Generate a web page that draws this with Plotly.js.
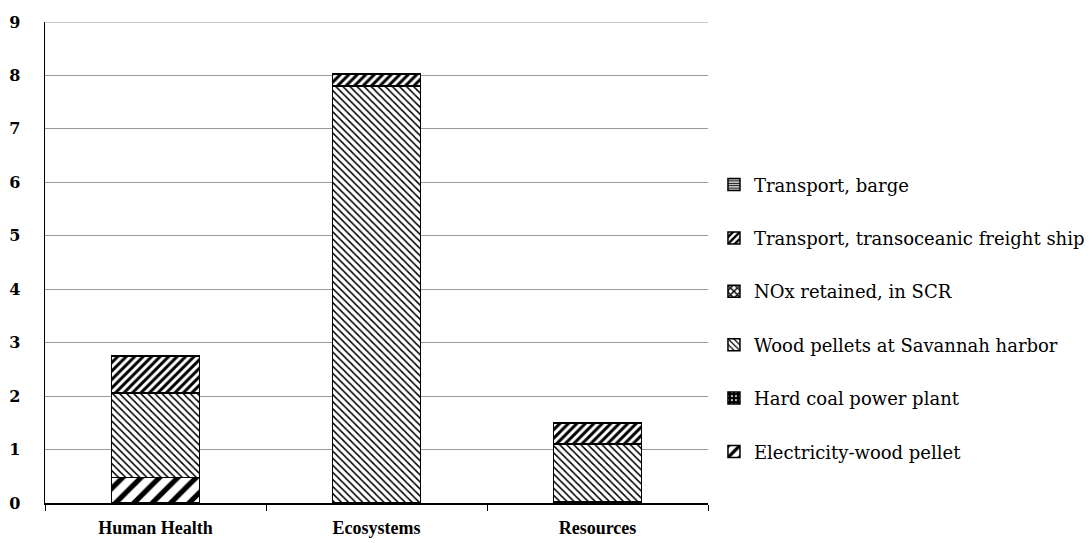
<!DOCTYPE html>
<html>
<head>
<meta charset="utf-8">
<script src="https://cdn.plot.ly/plotly-3.0.1.min.js"></script>
<style>
  html, body { margin: 0; padding: 0; background: #fff; }
  #chart { width: 1091px; height: 543px; }
</style>
</head>
<body>
<div id="chart"></div>
<script>
// Impact categories
const categories = ["Human Health", "Ecosystems", "Resources"];

// Contribution of each process, stacked bottom to top
const electricityWoodPellet = [0.48, 0.00, 0.03];
const hardCoalPowerPlant    = [0.00, 0.00, 0.00];
const woodPelletsSavannah   = [1.58, 7.80, 1.07];
const noxRetainedSCR        = [0.00, 0.00, 0.00];
const transportFreightShip  = [0.69, 0.22, 0.40];
const transportBarge        = [0.01, 0.01, 0.01];

const seriesNames = [
  "Electricity-wood pellet",
  "Hard coal power plant",
  "Wood pellets at Savannah harbor",
  "NOx retained, in SCR",
  "Transport, transoceanic freight ship",
  "Transport, barge"
];
const seriesValues = [
  electricityWoodPellet,
  hardCoalPowerPlant,
  woodPelletsSavannah,
  noxRetainedSCR,
  transportFreightShip,
  transportBarge
];

// Black-and-white fill patterns for each process
const patterns = [
  { shape: "/",  size: 13, solidity: 0.4,  fgcolor: "#000", bgcolor: "#fff" },
  { shape: ".",  size: 5,  solidity: 0.2,  fgcolor: "#fff", bgcolor: "#000" },
  { shape: "\\", size: 5,  solidity: 0.3,  fgcolor: "#000", bgcolor: "#fff" },
  { shape: "x",  size: 6,  solidity: 0.5,  fgcolor: "#000", bgcolor: "#fff" },
  { shape: "/",  size: 6,  solidity: 0.5,  fgcolor: "#000", bgcolor: "#fff" },
  { shape: "-",  size: 3,  solidity: 0.5,  fgcolor: "#000", bgcolor: "#fff" }
];

const serif = "DejaVu Serif";
const boldSerif = "Liberation Serif";

const traces = seriesNames.map((name, i) => ({
  type: "bar",
  name: name,
  x: categories,
  y: seriesValues[i],
  legendgroup: "g" + i,
  legendrank: seriesNames.length - i,
  marker: {
    color: "#fff",
    line: { color: "#000", width: 1.5 },
    pattern: patterns[i]
  },
  hoverinfo: "name+y"
}));

const layout = {
  width: 1091,
  height: 543,
  margin: { l: 45, r: 383, t: 22, b: 40, autoexpand: false },
  paper_bgcolor: "#fff",
  plot_bgcolor: "#fff",
  barmode: "stack",
  bargap: 0.6,
  font: { family: serif, color: "#000" },
  xaxis: {
    type: "category",
    showgrid: false,
    showline: true,
    linecolor: "#000",
    linewidth: 1.5,
    ticks: "outside",
    tickson: "boundaries",
    ticklen: 6,
    tickcolor: "#000",
    ticklabelstandoff: 8,
    tickfont: { family: boldSerif, size: 18, color: "#000", weight: "bold" },
    range: [-0.5, 2.5]
  },
  yaxis: {
    range: [0, 9],
    dtick: 1,
    showgrid: true,
    gridcolor: "#9a9a9a",
    gridwidth: 1,
    showline: true,
    linecolor: "#000",
    linewidth: 1.5,
    zeroline: false,
    ticks: "",
    ticklabelstandoff: 20,
    tickfont: { family: serif, size: 16, color: "#000", weight: "bold" }
  },
  // grid line along the top value of the axis
  shapes: [{
    type: "line", xref: "paper", yref: "y",
    x0: 0, x1: 1, y0: 9, y1: 9,
    line: { color: "#9a9a9a", width: 1 }
  }],
  showlegend: true,
  legend: {
    x: 1.009,
    xanchor: "left",
    y: 0.7,
    yanchor: "top",
    traceorder: "grouped",
    tracegroupgap: 27,
    itemwidth: 30,
    font: { family: serif, size: 18, color: "#000" },
    bgcolor: "rgba(0,0,0,0)"
  }
};

Plotly.newPlot("chart", traces, layout, { displayModeBar: false, staticPlot: true });
</script>
</body>
</html>
